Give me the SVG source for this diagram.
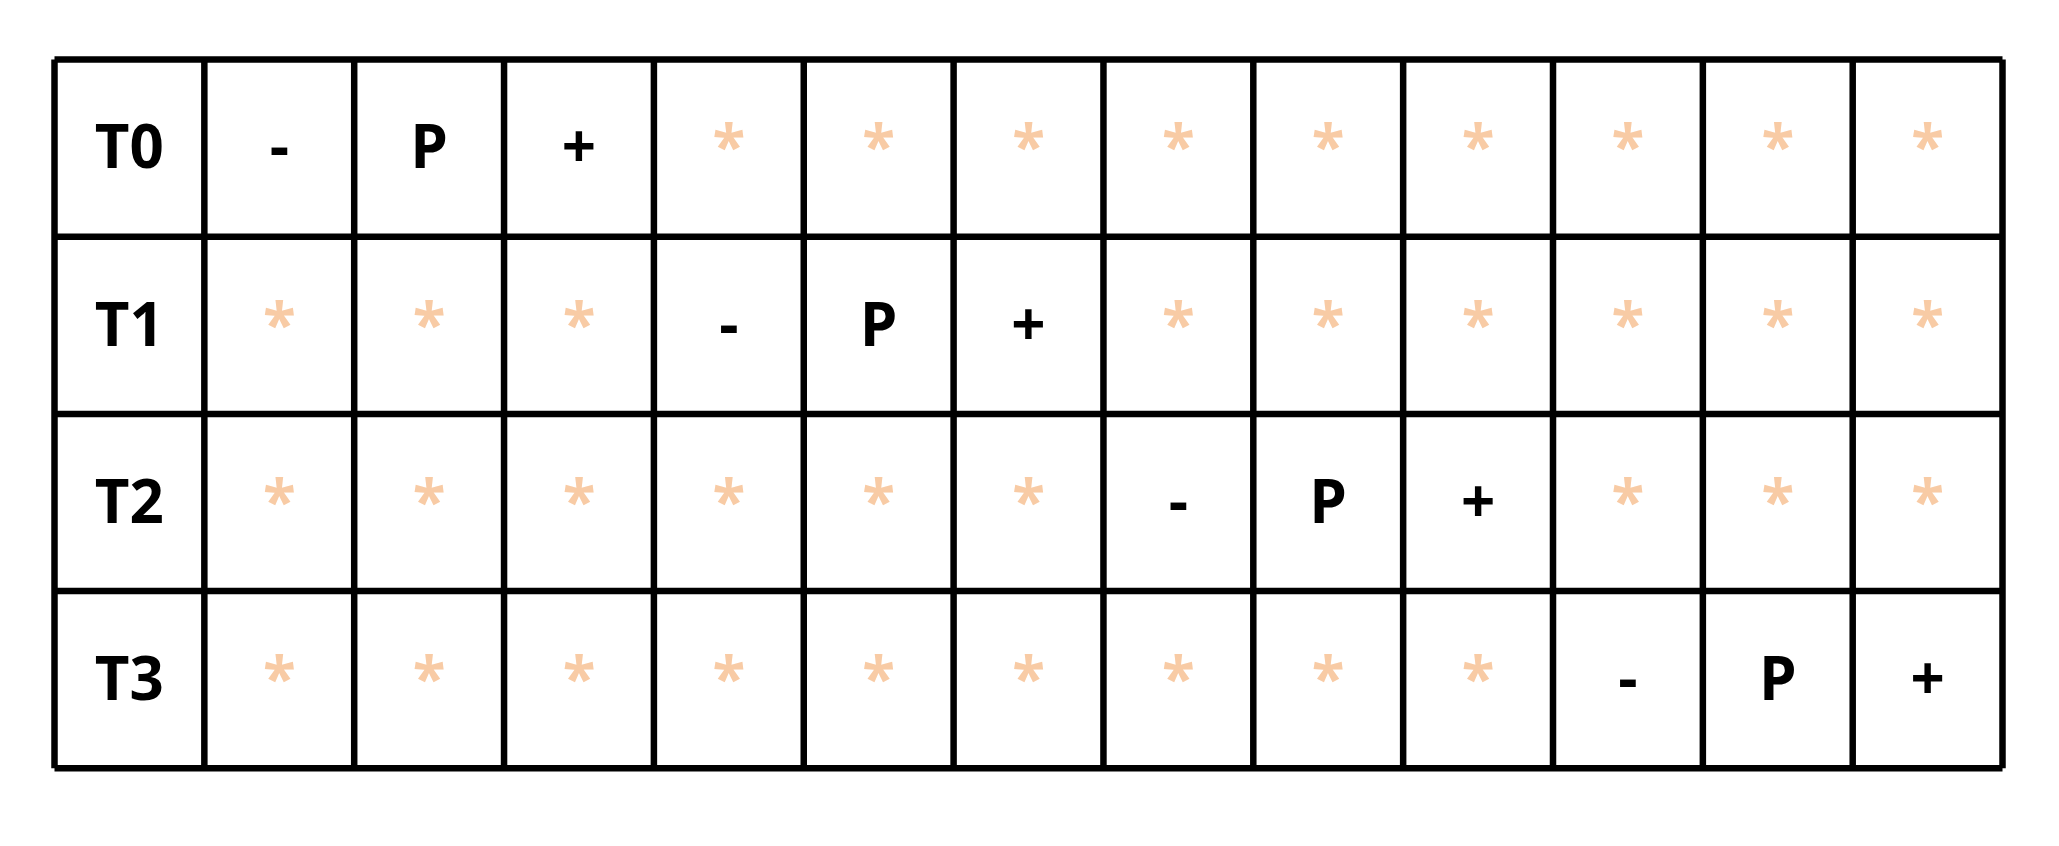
<svg xmlns="http://www.w3.org/2000/svg" width="2059" height="846" viewBox="0 0 2059 846">
<style>
.g{stroke:#000;stroke-width:6.5;fill:none}
text{font-family:"Open Sans","Noto Sans","Liberation Sans",sans-serif;font-weight:bold;font-size:60px;text-anchor:middle}
.k{fill:#000}
.s{fill:#F8CBA5}
</style>
<rect width="2059" height="846" fill="#fff"/>
<g id="grid" class="g">
<line x1="54.5" y1="59.5" x2="2002.5" y2="59.5"/>
<line x1="54.5" y1="236.7" x2="2002.5" y2="236.7"/>
<line x1="54.5" y1="413.9" x2="2002.5" y2="413.9"/>
<line x1="54.5" y1="591.1" x2="2002.5" y2="591.1"/>
<line x1="54.5" y1="768.3" x2="2002.5" y2="768.3"/>
<line x1="54.5" y1="59.5" x2="54.5" y2="768.3"/>
<line x1="204.35" y1="59.5" x2="204.35" y2="768.3"/>
<line x1="354.2" y1="59.5" x2="354.2" y2="768.3"/>
<line x1="504.05" y1="59.5" x2="504.05" y2="768.3"/>
<line x1="653.9" y1="59.5" x2="653.9" y2="768.3"/>
<line x1="803.75" y1="59.5" x2="803.75" y2="768.3"/>
<line x1="953.6" y1="59.5" x2="953.6" y2="768.3"/>
<line x1="1103.45" y1="59.5" x2="1103.45" y2="768.3"/>
<line x1="1253.3" y1="59.5" x2="1253.3" y2="768.3"/>
<line x1="1403.15" y1="59.5" x2="1403.15" y2="768.3"/>
<line x1="1553" y1="59.5" x2="1553" y2="768.3"/>
<line x1="1702.85" y1="59.5" x2="1702.85" y2="768.3"/>
<line x1="1852.7" y1="59.5" x2="1852.7" y2="768.3"/>
<line x1="2002.5" y1="59.5" x2="2002.5" y2="768.3"/>
</g>
<g id="row0">
<text class="k" x="129.4" y="168.3">T0</text>
<text class="k" x="279.3" y="168.3">-</text>
<text class="k" x="429.1" y="168.3">P</text>
<text class="k" x="579.0" y="168.3">+</text>
<text class="s" x="728.8" y="168.3">*</text>
<text class="s" x="878.7" y="168.3">*</text>
<text class="s" x="1028.5" y="168.3">*</text>
<text class="s" x="1178.4" y="168.3">*</text>
<text class="s" x="1328.2" y="168.3">*</text>
<text class="s" x="1478.1" y="168.3">*</text>
<text class="s" x="1627.9" y="168.3">*</text>
<text class="s" x="1777.8" y="168.3">*</text>
<text class="s" x="1927.6" y="168.3">*</text>
</g>
<g id="row1">
<text class="k" x="129.4" y="345.5">T1</text>
<text class="s" x="279.3" y="345.5">*</text>
<text class="s" x="429.1" y="345.5">*</text>
<text class="s" x="579.0" y="345.5">*</text>
<text class="k" x="728.8" y="345.5">-</text>
<text class="k" x="878.7" y="345.5">P</text>
<text class="k" x="1028.5" y="345.5">+</text>
<text class="s" x="1178.4" y="345.5">*</text>
<text class="s" x="1328.2" y="345.5">*</text>
<text class="s" x="1478.1" y="345.5">*</text>
<text class="s" x="1627.9" y="345.5">*</text>
<text class="s" x="1777.8" y="345.5">*</text>
<text class="s" x="1927.6" y="345.5">*</text>
</g>
<g id="row2">
<text class="k" x="129.4" y="522.7">T2</text>
<text class="s" x="279.3" y="522.7">*</text>
<text class="s" x="429.1" y="522.7">*</text>
<text class="s" x="579.0" y="522.7">*</text>
<text class="s" x="728.8" y="522.7">*</text>
<text class="s" x="878.7" y="522.7">*</text>
<text class="s" x="1028.5" y="522.7">*</text>
<text class="k" x="1178.4" y="522.7">-</text>
<text class="k" x="1328.2" y="522.7">P</text>
<text class="k" x="1478.1" y="522.7">+</text>
<text class="s" x="1627.9" y="522.7">*</text>
<text class="s" x="1777.8" y="522.7">*</text>
<text class="s" x="1927.6" y="522.7">*</text>
</g>
<g id="row3">
<text class="k" x="129.4" y="699.9">T3</text>
<text class="s" x="279.3" y="699.9">*</text>
<text class="s" x="429.1" y="699.9">*</text>
<text class="s" x="579.0" y="699.9">*</text>
<text class="s" x="728.8" y="699.9">*</text>
<text class="s" x="878.7" y="699.9">*</text>
<text class="s" x="1028.5" y="699.9">*</text>
<text class="s" x="1178.4" y="699.9">*</text>
<text class="s" x="1328.2" y="699.9">*</text>
<text class="s" x="1478.1" y="699.9">*</text>
<text class="k" x="1627.9" y="699.9">-</text>
<text class="k" x="1777.8" y="699.9">P</text>
<text class="k" x="1927.6" y="699.9">+</text>
</g>
</svg>
